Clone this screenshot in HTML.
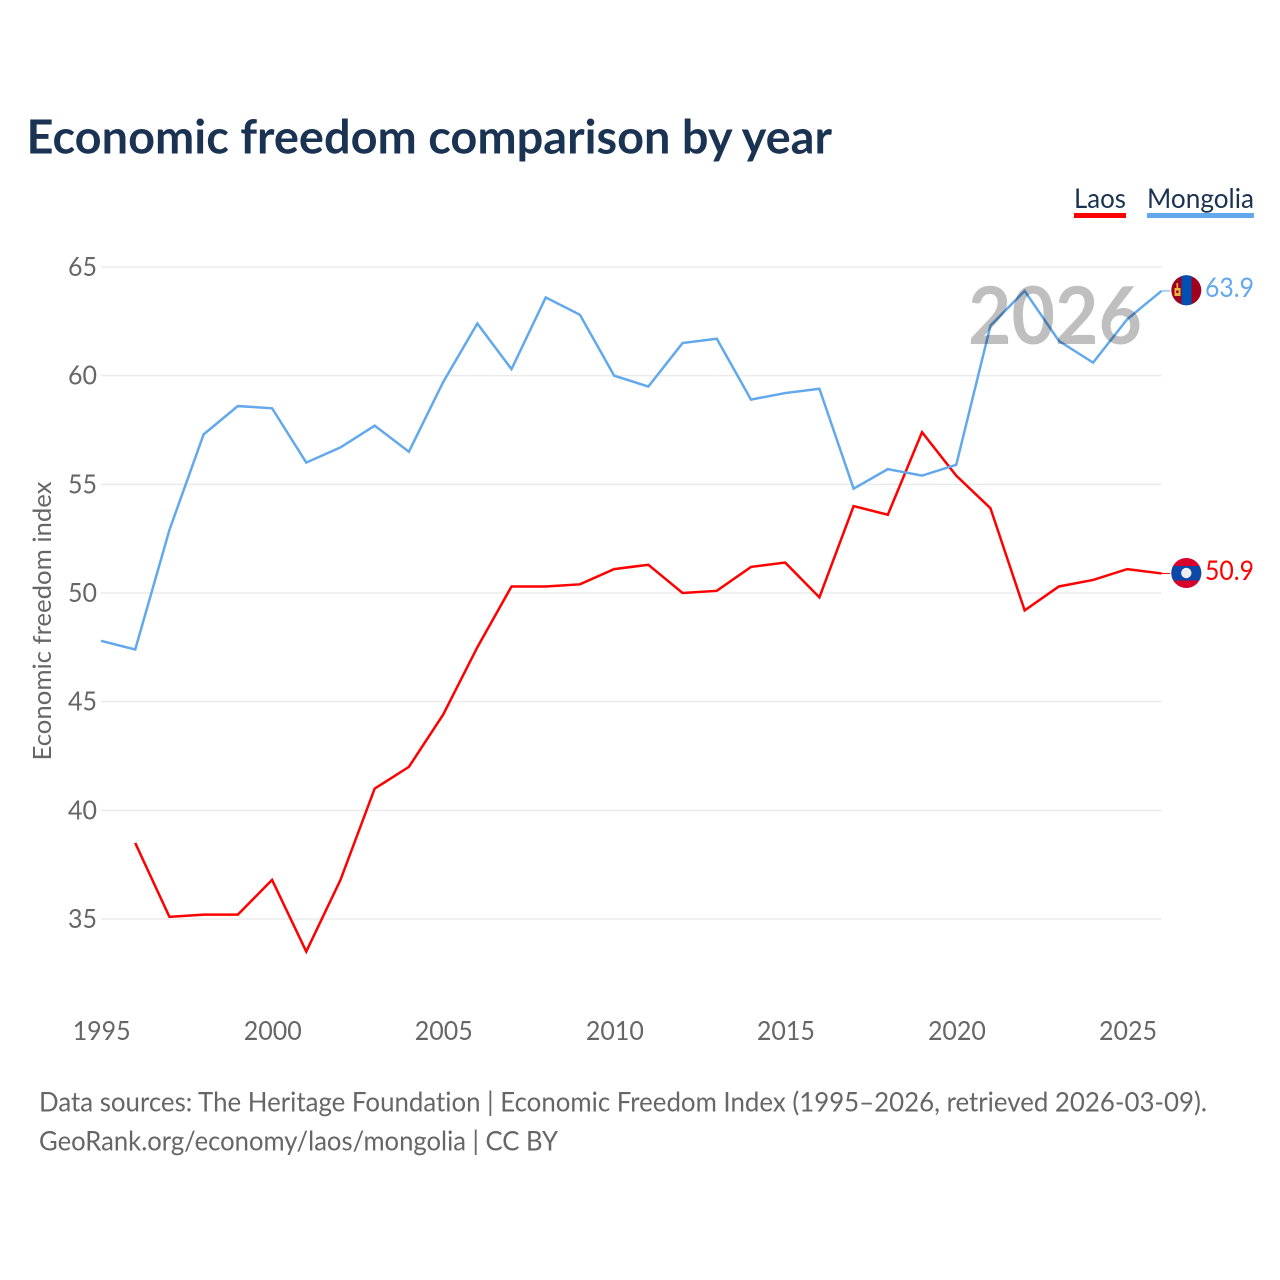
<!DOCTYPE html>
<html lang="en">
<head>
<meta charset="utf-8">
<title>Economic freedom comparison by year</title>
<style>
html,body{margin:0;padding:0;background:#fff;width:1280px;height:1280px;overflow:hidden}
svg{display:block}
text{font-family:"Lato","Carlito","Liberation Sans",sans-serif;font-variant-ligatures:none}
</style>
</head>
<body>
<svg id="chart" xmlns="http://www.w3.org/2000/svg" width="1280" height="1280" viewBox="0 0 1280 1280">
  <defs>
    <clipPath id="flag-clip-mn"><circle cx="1186.3" cy="290.3" r="15"/></clipPath>
    <clipPath id="flag-clip-la"><circle cx="1186.3" cy="573" r="15"/></clipPath>
  </defs>
  <text x="26.5" y="153.5" font-size="47" font-weight="700" fill="#1a3352" textLength="805.5" lengthAdjust="spacingAndGlyphs">Economic freedom comparison by year</text>

  <g id="grid"></g>
  <g id="yticks"></g>
  <g id="xticks"></g>
  <text transform="translate(51,621) rotate(-90)" text-anchor="middle" font-size="25.5" fill="#666" textLength="279" lengthAdjust="spacingAndGlyphs">Economic freedom index</text>

  <g id="series"></g>

  <text x="968" y="344" font-size="80" font-weight="700" fill="#000" fill-opacity="0.25" textLength="174" lengthAdjust="spacingAndGlyphs">2026</text>

  <g>
    <text x="1074" y="208" font-size="27" fill="#1a3352" textLength="52" lengthAdjust="spacingAndGlyphs">Laos</text>
    <rect x="1074" y="213" width="52" height="5" fill="#ff0000"/>
  </g>
  <g>
    <text x="1147" y="208" font-size="27" fill="#1a3352" textLength="107" lengthAdjust="spacingAndGlyphs">Mongolia</text>
    <rect x="1147" y="213" width="107" height="5" fill="#62a8ec"/>
  </g>

  <g clip-path="url(#flag-clip-mn)">
    <rect x="1171" y="275" width="31" height="31" fill="#a0001e"/>
    <rect x="1181.6" y="275" width="10" height="31" fill="#0050b4"/>
    <rect x="1176.5" y="283" width="1.6" height="5" fill="#e8b83a"/>
    <rect x="1174.5" y="288" width="6" height="8" fill="#e8b83a"/>
    <rect x="1176.2" y="290.5" width="2.4" height="2.5" fill="#a0001e"/>
  </g>
  <g clip-path="url(#flag-clip-la)">
    <rect x="1171" y="558" width="31" height="31" fill="#d8002a"/>
    <rect x="1171" y="566" width="31" height="14.5" fill="#0d47a8"/>
    <circle cx="1186.3" cy="573" r="5.2" fill="#eeeeee"/>
  </g>

  <text x="1205" y="297" font-size="27" fill="#62a8ec" textLength="49" lengthAdjust="spacingAndGlyphs">63.9</text>
  <text x="1205" y="580" font-size="27" fill="#ff0000" textLength="49" lengthAdjust="spacingAndGlyphs">50.9</text>

  <text x="39" y="1111.5" font-size="27" fill="#666" textLength="1168" lengthAdjust="spacingAndGlyphs">Data sources: The Heritage Foundation | Economic Freedom Index (1995–2026, retrieved 2026-03-09).</text>
  <text x="39" y="1150.5" font-size="27" fill="#666" textLength="519" lengthAdjust="spacingAndGlyphs">GeoRank.org/economy/laos/mongolia | CC BY</text>
</svg>
<script>
const years = [1995,1996,1997,1998,1999,2000,2001,2002,2003,2004,2005,2006,2007,2008,2009,2010,2011,2012,2013,2014,2015,2016,2017,2018,2019,2020,2021,2022,2023,2024,2025,2026];
const laosValues = [null,38.5,35.1,35.2,35.2,36.8,33.5,36.8,41.0,42.0,44.4,47.5,50.3,50.3,50.4,51.1,51.3,50.0,50.1,51.2,51.4,49.8,54.0,53.6,57.4,55.4,53.9,49.2,50.3,50.6,51.1,50.9];
const mongoliaValues = [47.8,47.4,52.9,57.3,58.6,58.5,56.0,56.7,57.7,56.5,59.7,62.4,60.3,63.6,62.8,60.0,59.5,61.5,61.7,58.9,59.2,59.4,54.8,55.7,55.4,55.9,62.3,63.9,61.6,60.6,62.6,63.9];
const yTickValues = [35,40,45,50,55,60,65];
const xTickValues = [1995,2000,2005,2010,2015,2020,2025];

const NS = 'http://www.w3.org/2000/svg';
function xScale(year){ return 101 + (year - 1995) * (1161.5 - 101) / 31; }
function yScale(value){ return 919 - (value - 35) * (919 - 267) / 30; }
function make(tag, parent){
  const el = document.createElementNS(NS, tag);
  parent.appendChild(el);
  return el;
}

const grid = document.getElementById('grid');
const yticks = document.getElementById('yticks');
const xticks = document.getElementById('xticks');
const series = document.getElementById('series');

yTickValues.forEach(function(v){
  const line = make('line', grid);
  
  
  line.setAttribute('x1', 101);
  line.setAttribute('x2', 1161.5);
  line.setAttribute('y1', yScale(v));
  line.setAttribute('y2', yScale(v));
  line.setAttribute('stroke', '#ebebeb');
  line.setAttribute('stroke-width', 1.5);
  const label = make('text', yticks);
  
  
  label.setAttribute('x', 97);
  label.setAttribute('y', yScale(v) + 9);
  label.setAttribute('text-anchor', 'end');
  label.setAttribute('font-size', 26.5);
  label.setAttribute('fill', '#666');
  label.setAttribute('textLength', 29);
  label.setAttribute('lengthAdjust', 'spacingAndGlyphs');
  label.textContent = String(v);
});

xTickValues.forEach(function(y){
  const label = make('text', xticks);
  
  
  label.setAttribute('x', xScale(y) + 0.7);
  label.setAttribute('y', 1040);
  label.setAttribute('text-anchor', 'middle');
  label.setAttribute('font-size', 26.5);
  label.setAttribute('fill', '#666');
  label.setAttribute('textLength', 58);
  label.setAttribute('lengthAdjust', 'spacingAndGlyphs');
  label.textContent = String(y);
});

function pathFor(values){
  let d = '';
  values.forEach(function(v, i){
    if (v === null) return;
    d += (d ? 'L' : 'M') + xScale(years[i]).toFixed(2) + ' ' + yScale(v).toFixed(2);
  });
  return d;
}

const laosLine = make('path', series);


laosLine.setAttribute('d', pathFor(laosValues));
laosLine.setAttribute('fill', 'none');
laosLine.setAttribute('stroke', '#ff0000');
laosLine.setAttribute('stroke-width', 2.5);

const mongoliaLine = make('path', series);


mongoliaLine.setAttribute('d', pathFor(mongoliaValues));
mongoliaLine.setAttribute('fill', 'none');
mongoliaLine.setAttribute('stroke', '#62a8ec');
mongoliaLine.setAttribute('stroke-width', 2.5);

const laosConnector = make('line', series);


laosConnector.setAttribute('x1', xScale(2026));
laosConnector.setAttribute('x2', 1170);
laosConnector.setAttribute('y1', yScale(laosValues[laosValues.length - 1]));
laosConnector.setAttribute('y2', yScale(laosValues[laosValues.length - 1]));
laosConnector.setAttribute('stroke', '#ff0000');
laosConnector.setAttribute('stroke-width', 1);

const mongoliaConnector = make('line', series);


mongoliaConnector.setAttribute('x1', xScale(2026));
mongoliaConnector.setAttribute('x2', 1170);
mongoliaConnector.setAttribute('y1', yScale(mongoliaValues[mongoliaValues.length - 1]));
mongoliaConnector.setAttribute('y2', yScale(mongoliaValues[mongoliaValues.length - 1]));
mongoliaConnector.setAttribute('stroke', '#62a8ec');
mongoliaConnector.setAttribute('stroke-width', 1);
</script>
</body>
</html>
